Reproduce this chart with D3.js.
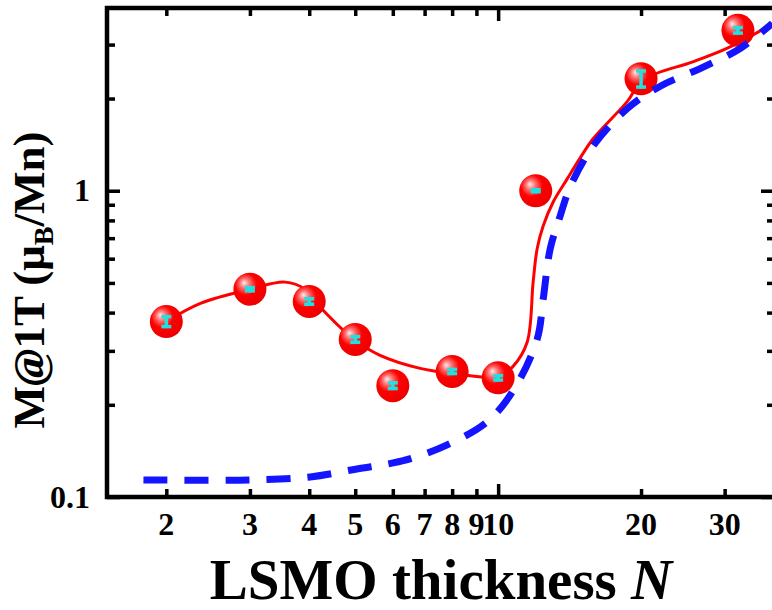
<!DOCTYPE html>
<html>
<head>
<meta charset="utf-8">
<script src="https://cdn.jsdelivr.net/npm/d3@7"></script>
<style>
  body { margin: 0; background: #fff; }
  text { font-family: "Liberation Serif", "Times New Roman", serif; font-weight: bold; }
</style>
</head>
<body>
<div id="chart"></div>
<script>
// Measured points (thickness N, moment at 1T)
let thickN = [2, 3, 4, 5, 6, 8, 10, 12, 20, 32];
let moment = [0.374, 0.477, 0.435, 0.327, 0.231, 0.257, 0.245, 1.0, 2.32, 3.34];
let momentErr = [0.014, 0.006, 0.009, 0.007, 0.005, 0.004, 0.004, 0.008, 0.14, 0.07];

// Red fit curve
let fitN = [2.0, 2.36, 3.0, 3.56, 3.92, 4.26, 4.97, 5.64, 6.85, 8.04, 10, 10.75, 11.51, 11.85, 12.08, 12.44, 13.06, 13.98, 14.89, 15.85, 18.7, 20.2, 25.8, 30.4, 37.4];
let fitM = [0.374, 0.429, 0.477, 0.503, 0.477, 0.410, 0.327, 0.290, 0.263, 0.253, 0.247, 0.267, 0.320, 0.503, 0.645, 0.767, 0.919, 1.093, 1.28, 1.478, 1.954, 2.30, 2.64, 2.92, 3.47];

// Blue dashed model curve
let modelN = [1.79, 3.0, 4.02, 5.04, 6.01, 6.62, 7.81, 9.48, 10.76, 12.08, 12.44, 12.87, 13.51, 14.18, 15.85, 18.7, 21.9, 26.7, 32.4, 37.8];
let modelM = [0.1137, 0.1137, 0.1163, 0.1235, 0.1292, 0.1342, 0.148, 0.176, 0.2226, 0.327, 0.442, 0.645, 0.827, 1.029, 1.40, 1.853, 2.19, 2.51, 2.92, 3.52];

let xTickVals = [2, 3, 4, 5, 6, 7, 8, 9, 10, 20, 30];
let xMinor = [2, 3, 4, 5, 6, 7, 8, 9, 20, 30];
let yTickVals = [0.1, 1];
let yMinor = [0.2, 0.3, 0.4, 0.5, 0.6, 0.7, 0.8, 0.9, 2, 3];

let margin = { top: 8, right: -3, bottom: 113, left: 107 };
let svgWidth = 772, svgHeight = 610;
let chartWidth = svgWidth - margin.left - margin.right;
let chartHeight = svgHeight - margin.top - margin.bottom;

let svg = d3.select('#chart').append('svg')
    .attr('width', svgWidth)
    .attr('height', svgHeight);

let defs = svg.append('defs');
let grad = defs.append('radialGradient')
    .attr('id', 'ball')
    .attr('cx', '42%').attr('cy', '40%').attr('r', '60%')
    .attr('fx', '32%').attr('fy', '30%');
grad.append('stop').attr('offset', '0%').attr('stop-color', '#ffe8e8');
grad.append('stop').attr('offset', '25%').attr('stop-color', '#ff7070');
grad.append('stop').attr('offset', '55%').attr('stop-color', '#ff0000');
grad.append('stop').attr('offset', '100%').attr('stop-color', '#ee0000');

let g = svg.append('g')
    .attr('transform', `translate(${margin.left}, ${margin.top})`);

let xScale = d3.scaleLog().domain([1.5, 38.3]).range([0, chartWidth]);
let yScale = d3.scaleLog().domain([0.1, 3.95]).range([chartHeight, 0]);

// Axes with inward ticks
let axisW = 4.5;
function styleAxis(sel) {
    sel.select('.domain').remove();
    sel.selectAll('.tick line').attr('stroke', '#000').attr('stroke-width', 3.5);
}

g.append('g').attr('transform', `translate(0, ${chartHeight})`)
    .call(d3.axisBottom(xScale).tickValues([10]).tickSizeInner(-13).tickFormat(''))
    .call(styleAxis);
g.append('g').attr('transform', `translate(0, ${chartHeight})`)
    .call(d3.axisBottom(xScale).tickValues(xMinor).tickSizeInner(-8).tickFormat(''))
    .call(styleAxis);
g.append('g')
    .call(d3.axisTop(xScale).tickValues([10]).tickSizeInner(-13).tickFormat(''))
    .call(styleAxis);
g.append('g')
    .call(d3.axisTop(xScale).tickValues(xMinor).tickSizeInner(-8).tickFormat(''))
    .call(styleAxis);
g.append('g')
    .call(d3.axisLeft(yScale).tickValues(yTickVals).tickSizeInner(-13).tickFormat(''))
    .call(styleAxis);
g.append('g')
    .call(d3.axisLeft(yScale).tickValues(yMinor).tickSizeInner(-8).tickFormat(''))
    .call(styleAxis);
g.append('g').attr('transform', `translate(${chartWidth}, 0)`)
    .call(d3.axisRight(yScale).tickValues(yTickVals).tickSizeInner(-14).tickFormat(''))
    .call(styleAxis);
g.append('g').attr('transform', `translate(${chartWidth}, 0)`)
    .call(d3.axisRight(yScale).tickValues(yMinor).tickSizeInner(-8).tickFormat(''))
    .call(styleAxis);

// frame
g.append('rect')
    .attr('x', 0).attr('y', 0)
    .attr('width', chartWidth).attr('height', chartHeight)
    .attr('fill', 'none').attr('stroke', '#000').attr('stroke-width', axisW);

// tick labels
g.append('g').selectAll('text')
    .data(xTickVals).enter().append('text')
    .attr('x', d => xScale(d))
    .attr('y', chartHeight + 38)
    .attr('text-anchor', 'middle')
    .attr('font-size', 32)
    .text(d => d);

g.append('g').selectAll('text')
    .data(yTickVals).enter().append('text')
    .attr('x', -17)
    .attr('y', d => yScale(d))
    .attr('dy', '0.33em')
    .attr('text-anchor', 'end')
    .attr('font-size', 32)
    .text(d => d);

// axis titles
let xt = svg.append('text')
    .attr('x', 441).attr('y', 599)
    .attr('text-anchor', 'middle')
    .attr('font-size', 57);
xt.append('tspan').text('LSMO thickness ');
xt.append('tspan').attr('font-style', 'italic').text('N');

let yt = svg.append('text')
    .attr('transform', 'translate(44, 280) rotate(-90)')
    .attr('text-anchor', 'middle')
    .attr('font-size', 45);
yt.append('tspan').text('M');
yt.append('tspan').attr('font-style', 'italic').text('@');
yt.append('tspan').text('1T (μ');
yt.append('tspan').attr('font-size', 28).attr('dy', 9).text('B');
yt.append('tspan').attr('dy', -9).text('/Mn)');

// clip to plot area
defs.append('clipPath').attr('id', 'plotClip')
    .append('rect').attr('width', chartWidth).attr('height', chartHeight);

let plot = g.append('g').attr('clip-path', 'url(#plotClip)');

let fitLine = d3.line()
    .x((d, i) => xScale(fitN[i]))
    .y(d => yScale(d))
    .curve(d3.curveCatmullRom.alpha(0.5));

plot.append('path')
    .attr('d', fitLine(fitM))
    .attr('fill', 'none')
    .attr('stroke', '#ff0000')
    .attr('stroke-width', 3);

// markers
let pts = plot.append('g').selectAll('g')
    .data(moment).enter().append('g')
    .attr('transform', (d, i) => `translate(${xScale(thickN[i])}, ${yScale(d)})`);

pts.append('circle')
    .attr('r', 16.5)
    .attr('fill', 'url(#ball)');

// error bars
let ebar = plot.append('g').selectAll('g')
    .data(moment).enter().append('g')
    .attr('stroke', '#22e0e0')
    .attr('stroke-width', 3.5);

ebar.append('line')
    .attr('x1', (d, i) => xScale(thickN[i]))
    .attr('x2', (d, i) => xScale(thickN[i]))
    .attr('y1', (d, i) => yScale(d - momentErr[i]) + 1.5)
    .attr('y2', (d, i) => yScale(d + momentErr[i]) - 1.5);
ebar.append('line')
    .attr('x1', (d, i) => xScale(thickN[i]) - 5)
    .attr('x2', (d, i) => xScale(thickN[i]) + 5)
    .attr('y1', (d, i) => yScale(d - momentErr[i]))
    .attr('y2', (d, i) => yScale(d - momentErr[i]));
ebar.append('line')
    .attr('x1', (d, i) => xScale(thickN[i]) - 5)
    .attr('x2', (d, i) => xScale(thickN[i]) + 5)
    .attr('y1', (d, i) => yScale(d + momentErr[i]))
    .attr('y2', (d, i) => yScale(d + momentErr[i]));

// dashed model line
let modelLine = d3.line()
    .x((d, i) => xScale(modelN[i]))
    .y(d => yScale(d))
    .curve(d3.curveCatmullRom.alpha(0.5));

plot.append('path')
    .attr('d', modelLine(modelM))
    .attr('fill', 'none')
    .attr('stroke', '#1414ff')
    .attr('stroke-width', 7)
    .attr('stroke-dasharray', '24,17');
</script>
</body>
</html>
